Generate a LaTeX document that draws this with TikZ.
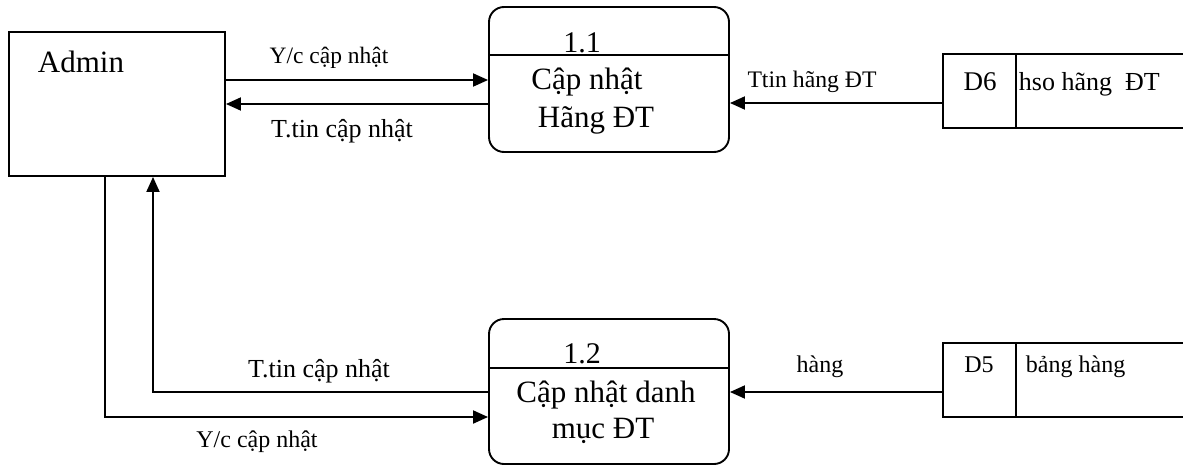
\documentclass[tikz,border=0pt]{standalone}
\usepackage{fontspec}
\setmainfont{Liberation Serif}
\usetikzlibrary{arrows.meta}
\newcommand{\fsz}[1]{\fontsize{#1}{#1}\selectfont}

\begin{document}
\begin{tikzpicture}[x = 1pt, y = -1pt, line width = 1.9pt, >= {Triangle[length=15pt, width=13pt]},
    process/.style = {draw, rounded corners = 15pt, minimum width = 240pt, minimum height = 145pt},
    store/.style = {minimum width = 239pt, minimum height = 72pt},
    lbl/.style = {inner sep = 0pt, anchor = base}]
          \useasboundingbox (0, 0) rectangle (1183, 466);
          \node[draw, minimum width = 216pt, minimum height = 144pt] (admin) at (117, 104) {};
          \node[process] (p11) at (609, 79.5) {};
          \node[process] (p12) at (609, 391.5) {};
          \node[store] (d6) at (1063.5, 91) {};
          \node[store] (d5) at (1063.5, 380) {};
          \draw (p11.west |- 0, 55) -- (p11.east |- 0, 55);
          \draw (p12.west |- 0, 368) -- (p12.east |- 0, 368);
          \draw (d6.north east) -- (d6.north west) -- (d6.south west) -- (d6.south east);
          \draw (d5.north east) -- (d5.north west) -- (d5.south west) -- (d5.south east);
          \draw ([xshift = 73pt]d6.north west) -- ([xshift = 73pt]d6.south west);
          \draw ([xshift = 73pt]d5.north west) -- ([xshift = 73pt]d5.south west);
          % flows
          \draw[->] (admin.east |- 0, 80) -- (p11.west |- 0, 80);
          \draw[->] (p11.west |- 0, 104) -- (admin.east |- 0, 104);
          \draw[->] (d6.west |- 0, 103) -- (p11.east |- 0, 103);
          \draw[->] (p12.west |- 0, 392) -| (admin.south -| 153, 0);
          \draw[->] (admin.south -| 105, 0) |- (p12.west |- 0, 417);
          \draw[->] (d5.west |- 0, 392) -- (p12.east |- 0, 392);
          % texts
          \node[lbl, anchor = base west, font = \fsz{31}] (admintxt) at (37, 72) {Admin};
          \node[lbl, font = \fsz{30}] (n11) at (582, 52) {1.1};
          \node[lbl, font = \fsz{31}] (t11a) at (587, 89) {Cập nhật};
          \node[lbl, font = \fsz{31}] (t11b) at (596, 127) {Hãng ĐT};
          \node[lbl, font = \fsz{30}] (n12) at (582, 363) {1.2};
          \node[lbl, font = \fsz{31}] (t12a) at (606, 402) {Cập nhật danh};
          \node[lbl, font = \fsz{31}] (t12b) at (603, 438) {mục ĐT};
          \node[lbl, font = \fsz{23.5}] (yc1) at (329, 63) {Y/c cập nhật};
          \node[lbl, font = \fsz{26}] (tt1) at (342, 137) {T.tin cập nhật};
          \node[lbl, font = \fsz{23.7}] (ttin) at (812, 87) {Ttin hãng ĐT};
          \node[lbl, font = \fsz{27}] (d6id) at (980, 90) {D6};
          \node[lbl, anchor = base west, font = \fsz{26}] (d6name) at (1018, 90) {hso hãng\ \ ĐT};
          \node[lbl, font = \fsz{26}] (tt2) at (319, 377) {T.tin cập nhật};
          \node[lbl, font = \fsz{24}] (yc2) at (257, 447) {Y/c cập nhật};
          \node[lbl, font = \fsz{24}] (hang) at (820, 372) {hàng};
          \node[lbl, font = \fsz{24}] (d5id) at (979, 372) {D5};
          \node[lbl, anchor = base west, font = \fsz{24}] (d5name) at (1025, 372) {bảng hàng};
        \end{tikzpicture}
\end{document}
